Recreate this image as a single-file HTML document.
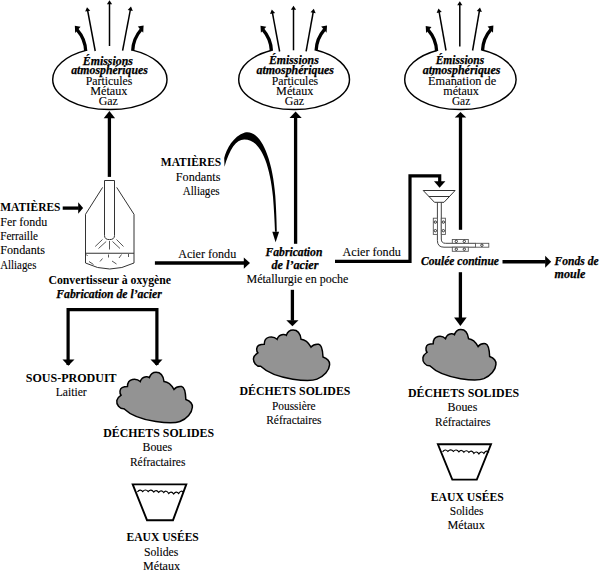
<!DOCTYPE html>
<html><head><meta charset="utf-8"><style>
html,body{margin:0;padding:0;background:#fff;width:600px;height:572px;overflow:hidden}
svg{display:block}
text{font-family:"Liberation Serif",serif;font-size:11.5px;fill:#000}
.bi{stroke:#000;stroke-width:0.25px}
.r{stroke:#000;stroke-width:0.1px}
</style></head><body>
<svg width="600" height="572" viewBox="0 0 600 572">
<path d="M85.70,51.02 C85.40,43.42 83.00,36.42 77.20,29.82" fill="none" stroke="#000" stroke-width="3.3"/>
<polygon points="74.80,25.82 80.60,26.82 75.20,33.02"/>
<path d="M132.70,50.70 C133.00,43.10 135.40,36.10 141.20,29.50" fill="none" stroke="#000" stroke-width="3.3"/>
<polygon points="143.60,25.50 137.80,26.50 143.20,32.70"/>
<path d="M86.00,50.42 A57.15 32.0 0 0 0 52.70,79.5 A57.15 30.1 0 0 0 167.00,79.5 A57.15 32.0 0 0 0 132.40,50.10" fill="none" stroke="#000" stroke-width="1.45"/>
<line x1="95.2" y1="51" x2="87.55" y2="10.15" stroke="#000" stroke-width="1.5"/>
<polygon points="87.00,7.20 90.29,10.65 85.18,11.61"/>
<line x1="109.5" y1="46" x2="109.50" y2="3.20" stroke="#000" stroke-width="1.5"/>
<polygon points="109.50,0.20 112.10,4.20 106.90,4.20"/>
<line x1="122.6" y1="50.6" x2="130.44" y2="9.45" stroke="#000" stroke-width="1.5"/>
<polygon points="131.00,6.50 132.81,10.92 127.70,9.94"/>
<path d="M271.40,50.83 C271.10,43.23 268.70,36.23 262.90,29.63" fill="none" stroke="#000" stroke-width="3.3"/>
<polygon points="260.50,25.63 266.30,26.63 260.90,32.83"/>
<path d="M316.10,50.66 C316.40,43.06 318.80,36.06 324.60,29.46" fill="none" stroke="#000" stroke-width="3.3"/>
<polygon points="327.00,25.46 321.20,26.46 326.60,32.66"/>
<path d="M271.70,50.23 A55.4 32.0 0 0 0 238.70,79.5 A55.4 30.1 0 0 0 349.50,79.5 A55.4 32.0 0 0 0 315.80,50.06" fill="none" stroke="#000" stroke-width="1.45"/>
<line x1="279.6" y1="51.5" x2="272.35" y2="12.45" stroke="#000" stroke-width="1.5"/>
<polygon points="271.80,9.50 275.09,12.96 269.97,13.91"/>
<line x1="293.5" y1="50.3" x2="293.50" y2="8.80" stroke="#000" stroke-width="1.5"/>
<polygon points="293.50,5.80 296.10,9.80 290.90,9.80"/>
<line x1="306.1" y1="51.4" x2="313.27" y2="11.75" stroke="#000" stroke-width="1.5"/>
<polygon points="313.80,8.80 315.65,13.20 310.53,12.27"/>
<path d="M436.60,51.09 C436.30,43.49 433.90,36.49 428.10,29.89" fill="none" stroke="#000" stroke-width="3.3"/>
<polygon points="425.70,25.89 431.50,26.89 426.10,33.09"/>
<path d="M482.50,50.65 C482.80,43.05 485.20,36.05 491.00,29.45" fill="none" stroke="#000" stroke-width="3.3"/>
<polygon points="493.40,25.45 487.60,26.45 493.00,32.65"/>
<path d="M436.90,50.49 A55.7 32.0 0 0 0 404.70,79.5 A55.7 30.1 0 0 0 516.10,79.5 A55.7 32.0 0 0 0 482.20,50.05" fill="none" stroke="#000" stroke-width="1.45"/>
<line x1="446.0" y1="50.5" x2="439.03" y2="11.45" stroke="#000" stroke-width="1.5"/>
<polygon points="438.50,8.50 441.76,11.98 436.64,12.89"/>
<line x1="459.8" y1="46.6" x2="459.80" y2="4.20" stroke="#000" stroke-width="1.5"/>
<polygon points="459.80,1.20 462.40,5.20 457.20,5.20"/>
<line x1="472.6" y1="50.5" x2="479.49" y2="10.46" stroke="#000" stroke-width="1.5"/>
<polygon points="480.00,7.50 481.88,11.88 476.76,11.00"/>
<line x1="109.4" y1="176.9" x2="109.4" y2="117.7" stroke="#000" stroke-width="3.3"/><polygon points="109.4,110.9 103.7,118.2 115.10000000000001,118.2"/>
<line x1="295.6" y1="243.8" x2="295.6" y2="117.5" stroke="#000" stroke-width="3.3"/><polygon points="295.6,111.5 289.5,118.0 301.70000000000005,118.0"/>
<line x1="460.5" y1="229.8" x2="460.5" y2="117.0" stroke="#000" stroke-width="3.3"/><polygon points="460.5,112 454.75,117.5 466.25,117.5"/>
<line x1="62.7" y1="208.1" x2="78.69999999999999" y2="208.1" stroke="#000" stroke-width="3.3"/><polygon points="83.1,208.1 78.19999999999999,202.35 78.19999999999999,213.85"/>
<line x1="154.9" y1="263.1" x2="244.3" y2="263.1" stroke="#000" stroke-width="3.5"/><polygon points="250,263.1 243.8,257.40000000000003 243.8,268.8"/>
<line x1="502.5" y1="261.7" x2="545.7" y2="261.7" stroke="#000" stroke-width="3.6"/><polygon points="551.2,261.7 545.2,255.7 545.2,267.7"/>
<line x1="292.4" y1="289.8" x2="292.4" y2="320.7" stroke="#000" stroke-width="3.3"/><polygon points="292.4,326.2 286.29999999999995,320.2 298.5,320.2"/>
<line x1="460.4" y1="272.2" x2="460.4" y2="318.1" stroke="#000" stroke-width="3.3"/><polygon points="460.4,326 454.09999999999997,317.6 466.7,317.6"/>
<path d="M335,261.3 H410 V175.8 H439.7 V182" fill="none" stroke="#000" stroke-width="3.2" stroke-linejoin="miter"/>
<polygon points="434,181.3 445.4,181.3 439.6,187.8"/>
<path d="M68.1,365 V309.6 H156.9 V365" fill="none" stroke="#000" stroke-width="3.2" stroke-linejoin="miter"/>
<polygon points="62.5,359.5 74.5,359.5 68.3,365.8"/>
<polygon points="150.5,359.5 162.5,359.5 156.6,365.8"/>
<path d="M224.5,166.8 L224.2,158 C226.5,149 233,136.5 244.9,132.6 C254,130.5 262,140 267,154 C271.5,166 274,180 275.3,196 C276.2,210 276.6,220 276.8,231.8 L275,231.8 C274.6,220 274,210 273,197 C271.5,182 269,170 265.3,160 C260,146 253,139.3 244.2,139.4 C236,139.6 229.5,149 224.5,166.8 Z" fill="#000"/>
<polygon points="272.3,231.7 279.1,231.7 275.6,242.2"/>
<path d="M104.5,180.5 H114.5 V235.5 Q114.5,239.6 109.5,239.6 Q104.5,239.6 104.5,235.5 Z" fill="none" stroke="#333" stroke-width="1"/>
<path d="M102.6,187.4 L85.5,214.3 V263 Q109.7,275 134,263 V214.3 L116.7,187.4" fill="none" stroke="#333" stroke-width="1"/>
<line x1="85.5" y1="253.3" x2="134" y2="253.3" stroke="#333" stroke-width="1.1"/>
<line x1="109.5" y1="241" x2="109.5" y2="249.5" stroke="#444" stroke-width="0.9"/>
<line x1="106.2" y1="241.5" x2="98.5" y2="248.5" stroke="#444" stroke-width="0.9"/>
<line x1="102.5" y1="239.5" x2="95.2" y2="246.5" stroke="#444" stroke-width="0.9"/>
<line x1="112.5" y1="241.5" x2="120" y2="248.5" stroke="#444" stroke-width="0.9"/>
<line x1="116.5" y1="239.5" x2="123.5" y2="246.5" stroke="#444" stroke-width="0.9"/>
<line x1="86.5" y1="254.5" x2="87.5" y2="256" stroke="#444" stroke-width="0.9"/>
<line x1="89" y1="261.5" x2="93.5" y2="264.5" stroke="#444" stroke-width="0.9"/>
<line x1="100" y1="261.5" x2="102.5" y2="258.5" stroke="#444" stroke-width="0.9"/>
<line x1="108.5" y1="254.5" x2="108.5" y2="257.5" stroke="#444" stroke-width="0.9"/>
<line x1="112" y1="261" x2="116.5" y2="264" stroke="#444" stroke-width="0.9"/>
<line x1="119" y1="258" x2="121.5" y2="254.5" stroke="#444" stroke-width="0.9"/>
<line x1="128.5" y1="254" x2="128.5" y2="257" stroke="#444" stroke-width="0.9"/>
<polygon points="423.2,190.5 455.1,190.5 444,202.3 434.5,202.3" fill="#fff" stroke="#333" stroke-width="1" stroke-linejoin="round"/>
<line x1="428.8" y1="196.5" x2="449.6" y2="196.5" stroke="#333" stroke-width="1"/>
<path d="M437.4,202.3 V240.5 Q437.4,247.2 444,247.2 H475.5 M441.3,202.3 V239 Q441.3,243.3 445.5,243.3 H475.5" fill="none" stroke="#444" stroke-width="1"/>
<rect x="433.3" y="218.2" width="4.1" height="16.2" fill="#fff" stroke="#555" stroke-width="0.9"/>
<circle cx="435.35" cy="222.1" r="1.2" fill="none" stroke="#222" stroke-width="0.9"/>
<circle cx="435.35" cy="230.7" r="1.2" fill="none" stroke="#222" stroke-width="0.9"/>
<rect x="441.3" y="218.2" width="4.1" height="16.2" fill="#fff" stroke="#555" stroke-width="0.9"/>
<circle cx="443.35" cy="222.1" r="1.2" fill="none" stroke="#222" stroke-width="0.9"/>
<circle cx="443.35" cy="230.7" r="1.2" fill="none" stroke="#222" stroke-width="0.9"/>
<rect x="452.3" y="239.5" width="16" height="3.8" fill="#fff" stroke="#555" stroke-width="0.9"/>
<circle cx="456.3" cy="241.40" r="1.2" fill="none" stroke="#222" stroke-width="0.9"/>
<circle cx="464.3" cy="241.40" r="1.2" fill="none" stroke="#222" stroke-width="0.9"/>
<rect x="452.3" y="247.2" width="16" height="4.1" fill="#fff" stroke="#555" stroke-width="0.9"/>
<circle cx="456.3" cy="249.25" r="1.2" fill="none" stroke="#222" stroke-width="0.9"/>
<circle cx="464.3" cy="249.25" r="1.2" fill="none" stroke="#222" stroke-width="0.9"/>
<rect x="475.5" y="243.3" width="13.3" height="3.9" fill="#fff" stroke="#555" stroke-width="0.9"/>
<circle cx="481.9" cy="245.25" r="1.2" fill="none" stroke="#222" stroke-width="0.9"/>
<path d="M75,290 C45,292 20,262 25,232 C28,215 40,205 55,195 C42,180 45,150 62,142 C75,136 90,135 100,135 C100,115 110,90 135,85 C160,80 180,90 190,100 C195,85 210,68 232,66 C245,65 252,70 255,72 C262,50 280,35 302,35 C330,35 352,55 358,100 C380,102 405,115 428,155 C440,140 460,132 482,135 C505,140 510,175 512,225 C540,235 560,255 558,280 C555,320 520,360 470,380 C430,395 380,392 300,380 C220,368 125,338 75,290 Z" transform="translate(113.3,367.3) scale(0.1417,0.1428)" fill="#939393" stroke="#000" stroke-width="1.5" vector-effect="non-scaling-stroke"/>
<path d="M75,290 C45,292 20,262 25,232 C28,215 40,205 55,195 C42,180 45,150 62,142 C75,136 90,135 100,135 C100,115 110,90 135,85 C160,80 180,90 190,100 C195,85 210,68 232,66 C245,65 252,70 255,72 C262,50 280,35 302,35 C330,35 352,55 358,100 C380,102 405,115 428,155 C440,140 460,132 482,135 C505,140 510,175 512,225 C540,235 560,255 558,280 C555,320 520,360 470,380 C430,395 380,392 300,380 C220,368 125,338 75,290 Z" transform="translate(250,325) scale(0.1426,0.1425)" fill="#939393" stroke="#000" stroke-width="1.5" vector-effect="non-scaling-stroke"/>
<path d="M75,290 C45,292 20,262 25,232 C28,215 40,205 55,195 C42,180 45,150 62,142 C75,136 90,135 100,135 C100,115 110,90 135,85 C160,80 180,90 190,100 C195,85 210,68 232,66 C245,65 252,70 255,72 C262,50 280,35 302,35 C330,35 352,55 358,100 C380,102 405,115 428,155 C440,140 460,132 482,135 C505,140 510,175 512,225 C540,235 560,255 558,280 C555,320 520,360 470,380 C430,395 380,392 300,380 C220,368 125,338 75,290 Z" transform="translate(419.5,324.4) scale(0.137,0.1428)" fill="#939393" stroke="#000" stroke-width="1.5" vector-effect="non-scaling-stroke"/>
<polygon points="132.7,484.4 186.3,484.4 173,520.2 147,520.2" fill="none" stroke="#000" stroke-width="1.9" stroke-linejoin="miter"/>
<path d="M137.40,492.00 Q140.05,488.50 142.70,491.50 Q145.45,488.50 148.20,491.50 Q150.95,488.50 153.70,492.00 Q156.20,489.00 158.70,492.30 Q161.20,489.30 163.70,492.50 Q166.20,489.50 168.70,493.50 Q171.20,490.50 173.70,494.00 Q176.20,490.50 178.70,493.50 Q181.20,489.50 183.70,492.50" fill="none" stroke="#000" stroke-width="1.2"/>
<polygon points="437.9,444.3 491,444.3 476.8,479.6 452.3,479.6" fill="none" stroke="#000" stroke-width="1.9" stroke-linejoin="miter"/>
<path d="M442.60,451.90 Q445.25,448.40 447.90,451.40 Q450.65,448.40 453.40,451.40 Q456.15,448.40 458.90,451.90 Q461.40,448.90 463.90,452.20 Q466.40,449.20 468.90,452.40 Q471.40,449.40 473.90,453.40 Q476.40,450.40 478.90,453.90 Q481.40,450.40 483.90,453.40 Q486.40,449.40 488.90,452.40" fill="none" stroke="#000" stroke-width="1.2"/>
<text x="82.80" y="64.50" textLength="50.10" lengthAdjust="spacingAndGlyphs" class="bi" style="font-weight:bold;font-style:italic;">Émissions</text>
<text x="71.20" y="74.00" textLength="76.70" lengthAdjust="spacingAndGlyphs" class="bi" style="font-weight:bold;font-style:italic;">atmosphériques</text>
<text x="85.80" y="84.80" textLength="46.60" lengthAdjust="spacingAndGlyphs" class="r" style="">Particules</text>
<text x="90.30" y="95.00" textLength="37.10" lengthAdjust="spacingAndGlyphs" class="r" style="">Métaux</text>
<text x="98.70" y="104.70" textLength="19.20" lengthAdjust="spacingAndGlyphs" class="r" style="">Gaz</text>
<text x="0.25" y="211.35" textLength="60.20" lengthAdjust="spacingAndGlyphs" style="font-weight:bold;">MATIÈRES</text>
<text x="0.25" y="225.60" textLength="46.90" lengthAdjust="spacingAndGlyphs" class="r" style="">Fer fondu</text>
<text x="0.25" y="240.10" textLength="37.65" lengthAdjust="spacingAndGlyphs" class="r" style="">Ferraille</text>
<text x="0.25" y="254.40" textLength="44.65" lengthAdjust="spacingAndGlyphs" class="r" style="">Fondants</text>
<text x="0.25" y="268.90" textLength="36.15" lengthAdjust="spacingAndGlyphs" class="r" style="">Alliages</text>
<text x="48.40" y="283.80" textLength="122.70" lengthAdjust="spacingAndGlyphs" style="font-weight:bold;">Convertisseur à oxygène</text>
<text x="56.30" y="298.30" textLength="105.40" lengthAdjust="spacingAndGlyphs" class="bi" style="font-weight:bold;font-style:italic;">Fabrication de l’acier</text>
<text x="25.75" y="381.85" textLength="90.90" lengthAdjust="spacingAndGlyphs" style="font-weight:bold;">SOUS-PRODUIT</text>
<text x="55.75" y="396.10" textLength="30.90" lengthAdjust="spacingAndGlyphs" class="r" style="">Laitier</text>
<text x="103.30" y="437.20" textLength="110.80" lengthAdjust="spacingAndGlyphs" style="font-weight:bold;">DÉCHETS SOLIDES</text>
<text x="142.50" y="451.20" textLength="29.60" lengthAdjust="spacingAndGlyphs" class="r" style="">Boues</text>
<text x="129.90" y="465.90" textLength="55.50" lengthAdjust="spacingAndGlyphs" class="r" style="">Réfractaires</text>
<text x="126.50" y="541.00" textLength="72.30" lengthAdjust="spacingAndGlyphs" style="font-weight:bold;">EAUX USÉES</text>
<text x="143.90" y="555.60" textLength="34.50" lengthAdjust="spacingAndGlyphs" class="r" style="">Solides</text>
<text x="143.10" y="570.00" textLength="36.90" lengthAdjust="spacingAndGlyphs" class="r" style="">Métaux</text>
<text x="268.90" y="64.00" textLength="49.90" lengthAdjust="spacingAndGlyphs" class="bi" style="font-weight:bold;font-style:italic;">Émissions</text>
<text x="256.50" y="73.80" textLength="77.50" lengthAdjust="spacingAndGlyphs" class="bi" style="font-weight:bold;font-style:italic;">atmosphériques</text>
<text x="271.80" y="85.10" textLength="46.40" lengthAdjust="spacingAndGlyphs" class="r" style="">Particules</text>
<text x="276.10" y="95.20" textLength="37.30" lengthAdjust="spacingAndGlyphs" class="r" style="">Métaux</text>
<text x="284.80" y="104.80" textLength="19.30" lengthAdjust="spacingAndGlyphs" class="r" style="">Gaz</text>
<text x="160.80" y="165.90" textLength="60.40" lengthAdjust="spacingAndGlyphs" style="font-weight:bold;">MATIÈRES</text>
<text x="175.80" y="181.10" textLength="44.60" lengthAdjust="spacingAndGlyphs" class="r" style="">Fondants</text>
<text x="182.80" y="195.30" textLength="36.80" lengthAdjust="spacingAndGlyphs" class="r" style="">Alliages</text>
<text x="178.20" y="257.80" textLength="58.00" lengthAdjust="spacingAndGlyphs" class="r" style="">Acier fondu</text>
<text x="265.50" y="256.20" textLength="56.90" lengthAdjust="spacingAndGlyphs" class="bi" style="font-weight:bold;font-style:italic;">Fabrication</text>
<text x="271.50" y="268.60" textLength="46.90" lengthAdjust="spacingAndGlyphs" class="bi" style="font-weight:bold;font-style:italic;">de l’acier</text>
<text x="246.50" y="282.60" textLength="101.90" lengthAdjust="spacingAndGlyphs" class="r" style="">Métallurgie en poche</text>
<text x="239.50" y="395.10" textLength="110.90" lengthAdjust="spacingAndGlyphs" style="font-weight:bold;">DÉCHETS SOLIDES</text>
<text x="272.00" y="409.60" textLength="43.60" lengthAdjust="spacingAndGlyphs" class="r" style="">Poussière</text>
<text x="266.20" y="423.50" textLength="55.40" lengthAdjust="spacingAndGlyphs" class="r" style="">Réfractaires</text>
<text x="435.70" y="64.00" textLength="48.50" lengthAdjust="spacingAndGlyphs" class="bi" style="font-weight:bold;font-style:italic;">Émissions</text>
<text x="422.70" y="73.80" textLength="77.80" lengthAdjust="spacingAndGlyphs" class="bi" style="font-weight:bold;font-style:italic;">atmosphériques</text>
<text x="428.10" y="84.70" textLength="68.10" lengthAdjust="spacingAndGlyphs" class="r" style="">Émanation de</text>
<text x="443.30" y="95.20" textLength="35.50" lengthAdjust="spacingAndGlyphs" class="r" style="">métaux</text>
<text x="451.90" y="104.80" textLength="18.30" lengthAdjust="spacingAndGlyphs" class="r" style="">Gaz</text>
<text x="342.50" y="256.20" textLength="58.30" lengthAdjust="spacingAndGlyphs" class="r" style="">Acier fondu</text>
<text x="421.10" y="264.90" textLength="77.90" lengthAdjust="spacingAndGlyphs" class="bi" style="font-weight:bold;font-style:italic;">Coulée continue</text>
<text x="554.60" y="265.00" textLength="44.00" lengthAdjust="spacingAndGlyphs" class="bi" style="font-weight:bold;font-style:italic;">Fonds de</text>
<text x="554.60" y="277.80" textLength="30.80" lengthAdjust="spacingAndGlyphs" class="bi" style="font-weight:bold;font-style:italic;">moule</text>
<text x="407.90" y="396.50" textLength="111.30" lengthAdjust="spacingAndGlyphs" style="font-weight:bold;">DÉCHETS SOLIDES</text>
<text x="447.50" y="411.40" textLength="29.80" lengthAdjust="spacingAndGlyphs" class="r" style="">Boues</text>
<text x="435.00" y="425.90" textLength="55.40" lengthAdjust="spacingAndGlyphs" class="r" style="">Réfractaires</text>
<text x="430.80" y="500.80" textLength="73.00" lengthAdjust="spacingAndGlyphs" style="font-weight:bold;">EAUX USÉES</text>
<text x="449.80" y="514.80" textLength="33.60" lengthAdjust="spacingAndGlyphs" class="r" style="">Solides</text>
<text x="447.50" y="528.80" textLength="37.30" lengthAdjust="spacingAndGlyphs" class="r" style="">Métaux</text>
</svg>
</body></html>
